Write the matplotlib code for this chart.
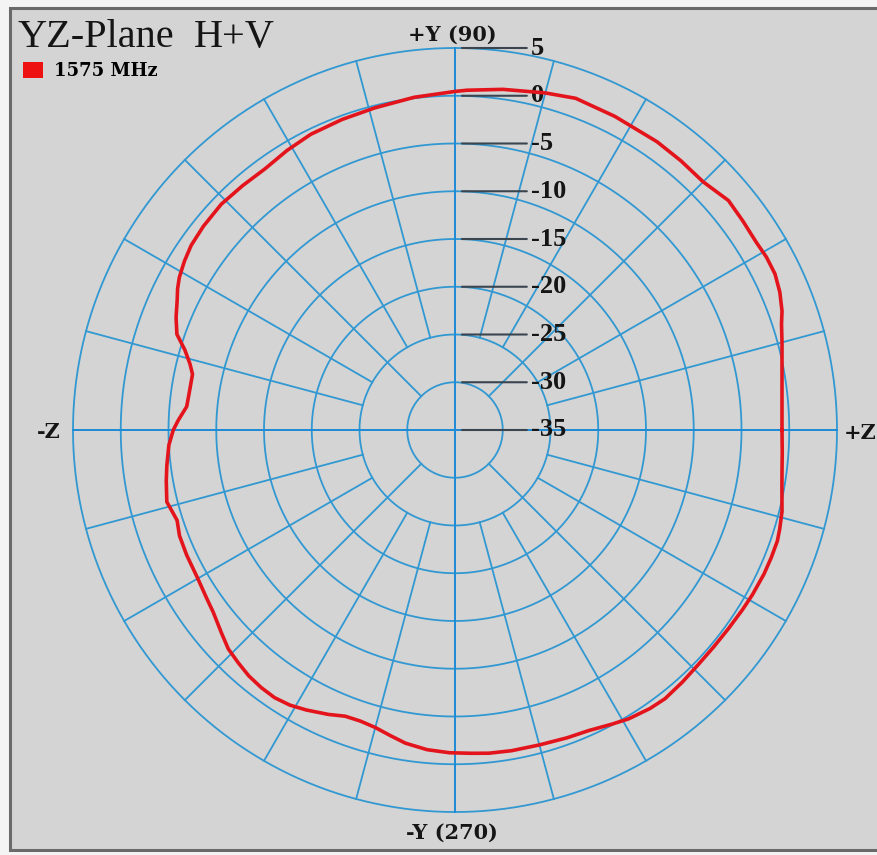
import numpy as np
import matplotlib
matplotlib.use("Agg")
import matplotlib.pyplot as plt
from matplotlib.patches import Rectangle, Patch

plt.rcParams['font.family'] = ['Liberation Serif', 'DejaVu Serif']

# measured pattern, YZ plane, H+V, 1575 MHz (angle deg, gain dBi)
angle_deg = [0, 5, 10, 15, 18, 20, 23, 26, 29, 32, 36, 40, 45, 50, 55, 63, 70,
             75, 82, 88, 90, 97, 104, 110, 116, 121, 126, 131, 136, 141, 145,
             148, 151, 153, 155, 158, 161, 163.5, 166, 168, 172, 175, 178, 180,
             183, 187, 190, 194, 198, 201, 205, 210, 214, 217, 221, 224, 227,
             230, 233, 236, 239, 242, 246, 249, 252, 255, 258, 261, 265, 269,
             273, 276, 280, 285, 290, 294, 298, 301, 305, 308, 312, 316, 320,
             324, 328, 331, 335, 338, 341, 343, 346, 350, 353, 356, 360]
gain_db = [-0.76, -0.63, -0.23, 0.45, 0.95, 1.44, 1.95, 2.28, 2.30, 2.17,
           2.25, 2.38, 1.75, 1.80, 1.86, 1.86, 1.96, 1.54, 1.02, 0.60, 0.45,
           0.10, -0.24, -0.40, -0.55, -0.85, -1.18, -1.10, -0.97, -1.10,
           -1.28, -1.60, -2.00, -2.40, -2.90, -3.50, -4.20, -5.50, -6.40,
           -6.90, -6.90, -6.80, -6.00, -5.50, -5.00, -4.60, -4.30, -3.90,
           -4.40, -4.10, -4.00, -3.90, -3.60, -3.30, -2.60, -2.00, -1.70,
           -1.40, -1.25, -1.20, -1.40, -1.80, -2.40, -2.90, -2.95, -2.75,
           -2.30, -1.80, -1.40, -1.20, -1.10, -0.97, -0.90, -0.86, -0.70,
           -0.55, -0.10, 0.29, 0.60, 0.71, 0.55, 0.39, 0.35, 0.39, 0.50, 0.60,
           0.70, 0.71, 0.70, 0.55, 0.29, -0.24, -0.50, -0.65, -0.76]

ring_levels = [-30, -25, -20, -15, -10, -5, 0, 5]
ring_labels = ['5', '0', '-5', '-10', '-15', '-20', '-25', '-30', '-35']
label_levels = [5, 0, -5, -10, -15, -20, -25, -30, -35]
spoke_deg = list(range(0, 360, 15))

r_min, r_max = -35, 5
W, H = 878, 855

grid_col = '#3198d2'
axis_col = '#1c8bd6'
bg_col = '#d4d4d4'
ink = '#151515'

fig = plt.figure(figsize=(W / 100, H / 100), dpi=100)
fig.patch.set_facecolor('#f4f4f4')

# gray panel with frame
fig.add_artist(Rectangle((10 / W, 5 / H), 0.99, 842 / H, transform=fig.transFigure,
                         facecolor=bg_col, edgecolor='#6a6a6a', linewidth=2.2, zorder=0))

cx, cy, R = 455, 430, 382
ax = fig.add_axes([(cx - R) / W, (H - cy - R) / H, 2 * R / W, 2 * R / H],
                  projection='polar')
ax.set_facecolor('none')
ax.set_theta_zero_location('E')
ax.set_ylim(r_min, r_max)
ax.grid(False)
ax.set_xticks([])
ax.set_yticks([])
ax.spines['polar'].set_visible(False)

# rings
th = np.linspace(0, 2 * np.pi, 721)
for lev in ring_levels:
    ax.plot(th, np.full_like(th, lev), color=grid_col, lw=1.3, clip_on=False, zorder=1)

# spokes: axes through centre, 45s from first ring, the rest from second ring
for d in spoke_deg:
    if d % 90 == 0:
        r0, c, lw = r_min, axis_col, 1.4
    elif d % 45 == 0:
        r0, c, lw = -30, grid_col, 1.3
    else:
        r0, c, lw = -25, grid_col, 1.3
    ax.plot([np.radians(d)] * 2, [r0, r_max], color=c, lw=lw, clip_on=False, zorder=1)

# dB scale labels with leader lines
for lev, lab in zip(label_levels, ring_labels):
    ax.annotate(lab, xy=(np.pi / 2, lev), xytext=(76, 0), textcoords='offset pixels',
                ha='left', va='center', fontsize=19, fontweight='bold', color=ink,
                arrowprops=dict(arrowstyle='-', color='#3a4550', lw=1.5,
                                shrinkA=1, shrinkB=5, relpos=(0, 0.5)),
                annotation_clip=False, zorder=3)

# pattern
ax.plot(np.radians(angle_deg), gain_db, color='#e3141b', lw=2.6, clip_on=False, zorder=4)

# direction labels
lab_kw = dict(fontsize=15, fontweight='bold', color=ink, annotation_clip=False,
              textcoords='offset pixels', family='DejaVu Serif')
ax.annotate('+Y (90)', xy=(np.pi / 2, r_max), xytext=(-3, 13), ha='center', va='center', **lab_kw)
ax.annotate('-Y (270)', xy=(3 * np.pi / 2, r_max), xytext=(-3, -21), ha='center', va='center', **lab_kw)
ax.annotate('-Z', xy=(np.pi, r_max), xytext=(-12, -2), ha='right', va='center', **lab_kw)
ax.annotate('+Z', xy=(0, r_max), xytext=(7, -3), ha='left', va='center', **lab_kw)

# title
fig.text(18 / W, 1 - 47 / H, 'YZ-Plane', fontsize=29, va='baseline', color=ink)
fig.text(194 / W, 1 - 47 / H, 'H+V', fontsize=29, va='baseline', color=ink)

fig.legend(handles=[Patch(facecolor='#ee1111', edgecolor='none', label='1575 MHz')],
           loc='upper left', bbox_to_anchor=(23 / W, 1 - 62 / H), frameon=False,
           prop=dict(weight='bold', size=13, family='DejaVu Serif'),
           handlelength=1.1, handleheight=0.95, handletextpad=0.6,
           borderpad=0, borderaxespad=0)

fig.savefig('out.png', dpi=100, facecolor=fig.get_facecolor())
